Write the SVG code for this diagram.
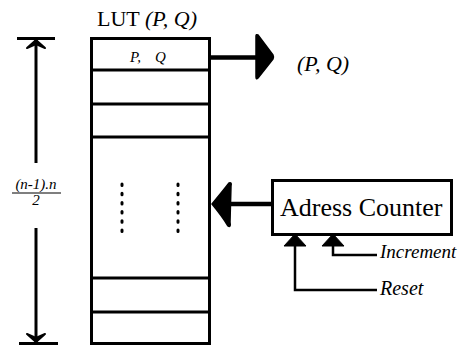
<svg xmlns="http://www.w3.org/2000/svg" width="465" height="349" viewBox="0 0 465 349">
  <style>
    .ln { stroke: #000; stroke-width: 3; fill: none; }
    .thin { stroke: #000; stroke-width: 2.5; fill: none; }
    .txt { font-family: "Liberation Serif", "Times New Roman", serif; fill: #000; }
    .it { font-style: italic; }
    .dots { stroke: #000; stroke-width: 3; stroke-linecap: round; stroke-dasharray: 1.5 7.7; fill: none; }
  </style>
  <rect width="465" height="349" fill="#fff"/>

  <!-- Lookup table column -->
  <g id="lut">
    <text class="txt" x="97" y="26" font-size="22">LUT <tspan class="it">(P, Q)</tspan></text>
    <rect class="ln" x="91.5" y="38.5" width="118" height="305"/>
    <line class="ln" x1="91.5" y1="70" x2="209.5" y2="70"/>
    <line class="ln" x1="91.5" y1="104" x2="209.5" y2="104"/>
    <line class="ln" x1="91.5" y1="137" x2="209.5" y2="137"/>
    <line class="ln" x1="91.5" y1="278" x2="209.5" y2="278"/>
    <line class="ln" x1="91.5" y1="312" x2="209.5" y2="312"/>
    <text class="txt it" x="130" y="62" font-size="15">P,<tspan x="155">Q</tspan></text>
    <line class="dots" x1="122" y1="184" x2="122" y2="232"/>
    <line class="dots" x1="178" y1="184" x2="178" y2="232"/>
  </g>

  <!-- Table size dimension -->
  <g id="dimension">
    <line class="ln" x1="17" y1="38.5" x2="55" y2="38.5"/>
    <line class="ln" x1="36" y1="40" x2="36" y2="163"/>
    <path d="M36 40 L27 48 L36 44 L45 48 Z" fill="#000" stroke="#000" stroke-width="2" stroke-linejoin="round"/>
    <line class="ln" x1="19" y1="343.5" x2="58" y2="343.5"/>
    <line class="ln" x1="36" y1="228" x2="36" y2="342"/>
    <path d="M36 342 L27 334 L36 338 L45 334 Z" fill="#000" stroke="#000" stroke-width="2" stroke-linejoin="round"/>
    <text class="txt it" x="36" y="189" font-size="15" text-anchor="middle">(n-1).n</text>
    <line x1="12" y1="193" x2="61" y2="193" stroke="#000" stroke-width="1.2"/>
    <text class="txt it" x="36" y="204.5" font-size="15" text-anchor="middle">2</text>
  </g>

  <!-- Address counter block -->
  <g id="counter">
    <rect class="ln" x="272.5" y="180.5" width="179" height="54"/>
    <text class="txt" x="280" y="216" font-size="26">Adress Counter</text>
  </g>

  <!-- Output label -->
  <g id="output">
    <text class="txt it" x="297" y="71" font-size="22">(P, Q)</text>
  </g>

  <!-- Input signal labels -->
  <g id="inputs">
    <text class="txt it" x="380" y="258" font-size="19">Increment</text>
    <text class="txt it" x="380" y="295" font-size="20">Reset</text>
  </g>

  <!-- Connectors -->
  <g id="connectors">
    <!-- table output -->
    <line x1="210" y1="57.5" x2="258" y2="57.5" stroke="#000" stroke-width="4.5"/>
    <path d="M256 36 Q256 34 258 35 L273 55 Q274 57 273 59 L258 78 Q256 80 256 77 Z" fill="#000" stroke="#000" stroke-width="1.5" stroke-linejoin="round"/>
    <!-- counter to table -->
    <line x1="228" y1="204" x2="272" y2="204" stroke="#000" stroke-width="4.5"/>
    <path d="M212 204 Q222 192 229 183 Q232 182 231 186 L230 222 Q231 228 228 226 Q222 216 212 204 Z" fill="#000" stroke="#000" stroke-width="1.5" stroke-linejoin="round"/>
    <!-- reset -->
    <polyline class="thin" points="377,290 295,290 295,242"/>
    <path d="M295 234 L306 246 L284 246 Z" fill="#000" stroke="#000" stroke-width="1" stroke-linejoin="round"/>
    <!-- increment -->
    <polyline class="thin" points="377,255 333,255 333,242"/>
    <path d="M333 234 L344 246 L322 246 Z" fill="#000" stroke="#000" stroke-width="1" stroke-linejoin="round"/>
  </g>
</svg>
